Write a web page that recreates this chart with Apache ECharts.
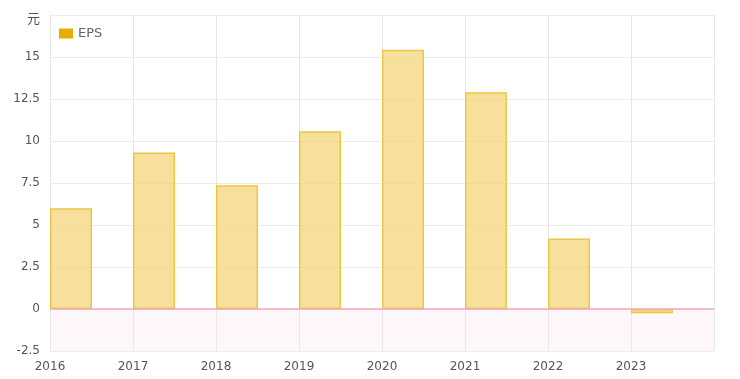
<!DOCTYPE html>
<html><head><meta charset="utf-8">
<script src="https://cdn.jsdelivr.net/npm/echarts@6/dist/echarts.min.js"></script>
<style>html,body{margin:0;padding:0;background:#fff}#c{width:740px;height:379px}</style>
</head><body><div id="c"></div>
<script>
const years = [2016, 2017, 2018, 2019, 2020, 2021, 2022, 2023];
const eps = [6.0, 9.32, 7.37, 10.58, 15.43, 12.9, 4.19, -0.25];
const yTicks = [-2.5, 0, 2.5, 5, 7.5, 10, 12.5, 15, 17.5];
const unitLabel = '元';
const seriesName = 'EPS';

const FONT = '"DejaVu Sans", Verdana, sans-serif';
const chart = echarts.init(document.getElementById('c'), null, {renderer: 'canvas'});
chart.setOption({
  animation: false,
  grid: {left: 50, right: 26, top: 15, bottom: 28},
  legend: {
    data: [seriesName], left: 54, top: 22, icon: 'rect', itemWidth: 14, itemHeight: 10, itemGap: 6,
    textStyle: {color: '#666', fontSize: 13, fontFamily: FONT},
    itemStyle: {color: '#e8ad00', borderWidth: 0}
  },
  xAxis: {
    type: 'value', min: 2016, max: 2024, interval: 1,
    axisLine: {show: true, lineStyle: {color: '#e4e4e4'}},
    axisTick: {show: false},
    axisLabel: {color: '#555', fontSize: 12, fontFamily: FONT, margin: 10,
      formatter: v => (v === 2024 ? '' : String(v))},
    splitLine: {show: true, lineStyle: {color: '#e8e8e8'}}
  },
  yAxis: {
    type: 'value', min: yTicks[0], max: yTicks[yTicks.length - 1], interval: 2.5,
    axisLine: {show: false}, axisTick: {show: false},
    axisLabel: {color: '#555', fontSize: 12, fontFamily: FONT, margin: 10,
      formatter: v => (v === yTicks[yTicks.length - 1] ? '{u|' + unitLabel + '}' : String(v)),
      rich: {u: {fontSize: 13, color: '#555', fontFamily: '"Noto Sans CJK SC", sans-serif', padding: [7, 0, 0, 0]}}},
    splitLine: {show: true, lineStyle: {color: '#ececec'}}
  },
  series: [
    {name: '_pad', type: 'bar', barWidth: 42, barGap: '0%', data: [], silent: true},
    {
      name: seriesName, type: 'bar', barWidth: 42, barGap: '0%',
      data: years.map((y, i) => [y, eps[i]]),
      itemStyle: {color: 'rgba(243,214,122,0.75)', borderColor: '#ecc646', borderWidth: 1.5},
      markArea: {silent: true, itemStyle: {color: 'rgba(252,225,235,0.25)'},
        data: [[{yAxis: yTicks[0]}, {yAxis: 0}]]},
      markLine: {silent: true, symbol: 'none', label: {show: false},
        lineStyle: {color: '#f0a8b8', type: 'solid', width: 1.5},
        data: [{yAxis: 0}]}
    }
  ]
});
</script>
</body></html>
